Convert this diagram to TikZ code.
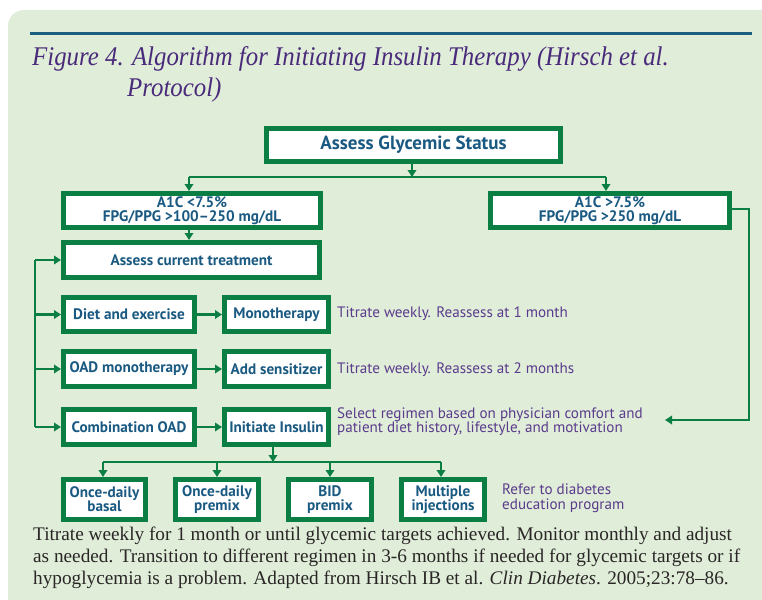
\documentclass[tikz,border=0pt]{standalone}
\usepackage{fontspec}
\usepackage{graphicx}
\setmainfont{Liberation Serif}
\setsansfont{PT Sans}
\newfontfamily\boxfont{PT Sans}
\newfontfamily\notefont{PT Sans}
\usetikzlibrary{arrows.meta}
\definecolor{bg}{HTML}{DFEDD9}
\definecolor{rule}{HTML}{1B5E7E}
\definecolor{titlepurple}{HTML}{4A2A7A}
\definecolor{boxgreen}{HTML}{0B7F43}
\definecolor{boxblue}{HTML}{1A5A82}
\definecolor{notepurple}{HTML}{5B3B8C}
\definecolor{foot}{HTML}{2A2626}
\tikzset{
  box/.style={draw=boxgreen, line width=5pt, fill=white, text=boxblue, inner sep=0pt,
    font=\boxfont\bfseries\fontsize{15.2}{14.2}\selectfont, align=center},
  conn/.style={draw=boxgreen, line width=2.3pt},
  arr/.style={conn, -{Triangle[width=8.5pt,length=7pt]}},
  note/.style={text=notepurple, font=\notefont\fontsize{15.1}{14.6}\selectfont, anchor=west, align=left, inner sep=0pt},
  ttl/.style={anchor=base west, inner sep=0pt, text=titlepurple, font=\fontsize{27}{31}\selectfont\itshape},
  ft/.style={anchor=base west, inner sep=0pt, text=foot, font=\fontsize{19.25}{22}\selectfont}
}
\begin{document}
\begin{tikzpicture}[x=1pt,y=-1pt]
\useasboundingbox (0,0) rectangle (762,599);
\fill[bg, rounded corners=16pt] (8,10) rectangle (780,620);
\draw[rule, line width=3pt] (30,34) -- (752,34);
\node[ttl] (t1) at (32,66) {\scalebox{0.92}[1]{Figure 4. Algorithm for Initiating Insulin Therapy (Hirsch et al.}};
\node[ttl] (t2) at (127,97) {\scalebox{0.92}[1]{Protocol)}};

\node[box, minimum width=294, minimum height=33, font=\boxfont\bfseries\fontsize{19}{19}\selectfont] (glyc) at (413.5,145) {Assess Glycemic Status};
\node[box, minimum width=257, minimum height=34] (lowA) at (192,210.5) {A1C {<}7.5\%\\FPG/PPG {>}100–250 mg/dL};
\node[box, minimum width=239, minimum height=34] (highA) at (610,210.5) {A1C {>}7.5\%\\FPG/PPG {>}250 mg/dL};
\node[box, minimum width=256, minimum height=35] (assess) at (191.5,260) {Assess current treatment};
\node[box, minimum width=131, minimum height=34] (diet) at (129,314.5) {Diet and exercise};
\node[box, minimum width=104, minimum height=34] (mono) at (276.5,314.5) {Monotherapy};
\node[box, minimum width=131, minimum height=35] (oad) at (129,369) {OAD monotherapy};
\node[box, minimum width=104, minimum height=35] (sens) at (276.5,369) {Add sensitizer};
\node[box, minimum width=131, minimum height=35] (comb) at (129,427) {Combination OAD};
\node[box, minimum width=104, minimum height=35] (init) at (276.5,427) {Initiate Insulin};
\node[box, minimum width=82, minimum height=40] (b1) at (104.5,499.5) {Once-daily\\basal};
\node[box, minimum width=83, minimum height=40] (b2) at (217,499.5) {Once-daily\\premix};
\node[box, minimum width=83, minimum height=40] (b3) at (330,499.5) {BID\\premix};
\node[box, minimum width=83, minimum height=40] (b4) at (443,499.5) {Multiple\\injections};

\node[note] (n1) at (337,314) {Titrate weekly. Reassess at 1 month};
\node[note] (n2) at (337,370) {Titrate weekly. Reassess at 2 months};
\node[note] (n3) at (337,421.5) {Select regimen based on physician comfort and\\patient diet history, lifestyle, and motivation};
\node[note] (n4) at (502,498.5) {Refer to diabetes\\education program};

% top split
\coordinate (j1) at (412,177);
\coordinate (jl) at (189,177);
\coordinate (jr) at (606,177);
\draw[arr] (glyc.south -| j1) -- (j1);
\draw[conn] (jl) -- (jr);
\draw[arr] (jl) -- (jl |- lowA.north);
\draw[arr] (jr) -- (jr |- highA.north);
\draw[arr] (lowA.south -| jl) -- (jl |- assess.north);
% right loop
\coordinate (rc1) at (749,209);
\coordinate (rc2) at (749,420);
\coordinate (rend) at (665,420);
\draw[arr] (highA.east |- rc1) -- (rc1) -- (rc2) -- (rend);
% left bus
\coordinate (bt) at (35,260);
\coordinate (bb) at (35,427);
\draw[conn] (bt) -- (bb);
\draw[arr] (bt) -- (assess.west);
\draw[arr] (bt |- diet.west) -- (diet.west);
\draw[arr] (bt |- oad.west) -- (oad.west);
\draw[arr] (bb) -- (comb.west);
\draw[arr] (diet) -- (mono);
\draw[arr] (oad) -- (sens);
\draw[arr] (comb) -- (init);
% bottom split
\coordinate (k1) at (273,462);
\coordinate (kl) at (103,462);
\coordinate (kr) at (441,462);
\draw[arr] (init.south -| k1) -- (k1);
\draw[conn] (kl) -- (kr);
\draw[arr] (kl) -- (kl |- b1.north);
\draw[arr] (b2.north |- k1) -- (b2.north);
\draw[arr] (b3.north |- k1) -- (b3.north);
\draw[arr] (kr) -- (kr |- b4.north);

\node[ft] (foot1) at (33,540) {Titrate weekly for 1 month or until glycemic targets achieved. Monitor monthly and adjust};
\node[ft] (foot2) at (33,562) {as needed. Transition to different regimen in 3-6 months if needed for glycemic targets or if};
\node[ft] (foot3) at (33,584) {hypoglycemia is a problem. Adapted from Hirsch IB et al. \textit{Clin Diabetes}. 2005;23:78–86.};
\end{tikzpicture}
\end{document}
